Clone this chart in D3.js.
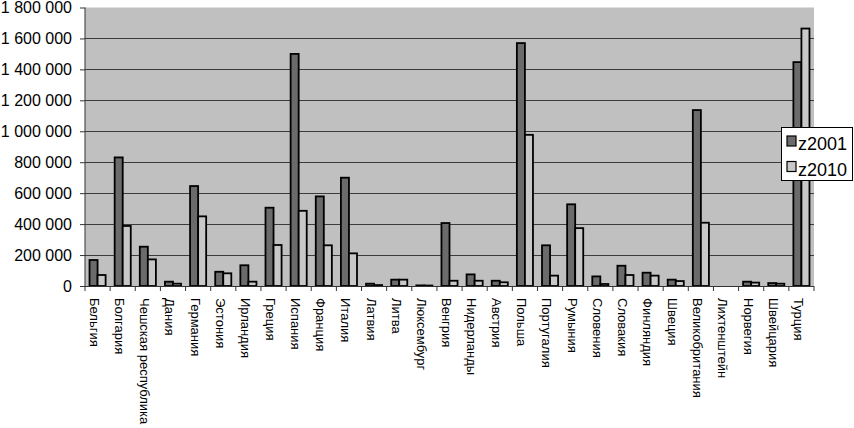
<!DOCTYPE html>
<html>
<head>
<meta charset="utf-8">
<script src="https://cdn.jsdelivr.net/npm/d3@7"></script>
<style>
  html, body { margin: 0; padding: 0; background: #fff; }
  svg { display: block; }
  text { font-family: "Liberation Sans", Arial, sans-serif; fill: #000; }
</style>
</head>
<body>
<svg id="chart" width="854" height="428"></svg>
<script>
const categories = ["Бельгия","Болгария","Чешская республика","Дания","Германия","Эстония","Ирландия","Греция","Испания","Франция","Италия","Латвия","Литва","Люксембург","Венгрия","Нидерланды","Австрия","Польша","Португалия","Румыния","Словения","Словакия","Финляндия","Швеция","Великобритания","Лихтенштейн","Норвегия","Швейцария","Турция"];
const seriesNames = ["z2001", "z2010"];
const z2001 = [168000, 831000, 254000, 28000, 646000, 92000, 134000, 506000, 1500000, 579000, 700000, 15000, 41000, 4000, 407000, 75000, 34000, 1570000, 263000, 528000, 62000, 131000, 86000, 41000, 1137000, 0, 28000, 19000, 1447000];
const z2010 = [71000, 388000, 172000, 15000, 450000, 82000, 28000, 265000, 486000, 263000, 211000, 6000, 41000, 3000, 34000, 34000, 24000, 977000, 67000, 374000, 13000, 71000, 67000, 32000, 409000, 0, 22000, 15000, 1664000];
const yTicks = [0, 200000, 400000, 600000, 800000, 1000000, 1200000, 1400000, 1600000, 1800000];
const seriesColors = ["#6b6b6b", "#c8c8c8"];

const svg = d3.select("#chart");
const L = 85, R = 814, T = 7.5, B = 286;

const x = d3.scaleBand().domain(categories).range([L, R]).padding(0);
const bw = x.bandwidth();
const x1 = d3.scaleBand().domain(seriesNames).range([bw * 0.18, bw * 0.82]).padding(0);
const y = d3.scaleLinear().domain([0, 1800000]).range([B, T]);

// plot area
svg.append("rect").attr("x", L).attr("y", T).attr("width", R - L).attr("height", B - T).attr("fill", "#c0c0c0");

// gridlines
svg.append("g").selectAll("line").data(yTicks.filter(d => d > 0 && d < 1800000)).join("line")
  .attr("x1", L).attr("x2", R).attr("y1", d => Math.round(y(d)) + 0.5).attr("y2", d => Math.round(y(d)) + 0.5)
  .attr("stroke", "#3c3c3c").attr("stroke-width", 1);

// y axis
const fmt = d => d3.format(",")(d).replace(/,/g, " ");
const yAxis = d3.axisLeft(y).tickValues(yTicks).tickSize(5).tickPadding(8).tickFormat(fmt);
const gy = svg.append("g").attr("transform", `translate(${L},0)`).call(yAxis);
gy.select(".domain").attr("stroke", "#333").attr("d", `M0,${T}V${B}`);
gy.selectAll(".tick line").attr("stroke", "#333");
gy.selectAll("text").attr("font-size", 16).attr("fill", "#000");

// bars
const data = categories.map((c, i) => ({ c, vals: [z2001[i], z2010[i]] }));
const groups = svg.append("g").selectAll("g").data(data).join("g")
  .attr("transform", d => `translate(${x(d.c)},0)`);
groups.selectAll("rect").data(d => d.vals.map((v, k) => ({ v, s: seriesNames[k], k }))).join("rect")
  .filter(d => d.v > 0)
  .attr("x", d => x1(d.s))
  .attr("width", x1.bandwidth())
  .attr("y", d => y(d.v))
  .attr("height", d => B - y(d.v))
  .attr("fill", d => seriesColors[d.k])
  .attr("stroke", "#000").attr("stroke-width", 1.8);

// x axis
svg.append("line").attr("x1", L).attr("x2", R).attr("y1", B + 0.5).attr("y2", B + 0.5).attr("stroke", "#333");
const boundaries = categories.map(c => x(c)).concat([R]);
svg.append("g").selectAll("line").data(boundaries).join("line")
  .attr("x1", d => d).attr("x2", d => d).attr("y1", B).attr("y2", B + 5).attr("stroke", "#333");

// x labels rotated
svg.append("g").selectAll("text").data(categories).join("text")
  .attr("transform", c => `translate(${x(c) + bw / 2 - 3},${298}) rotate(90)`)
  .attr("dy", "0.35em")
  .attr("font-size", 13)
  .attr("text-anchor", "start")
  .text(c => c);

// legend
const lg = svg.append("g");
lg.append("rect").attr("x", 781.5).attr("y", 127.5).attr("width", 71).attr("height", 53)
  .attr("fill", "#fff").attr("stroke", "#000").attr("stroke-width", 1);
seriesNames.forEach((s, k) => {
  const cy = 141 + k * 25.5;
  lg.append("rect").attr("x", 787).attr("y", cy - 5).attr("width", 9).attr("height", 10)
    .attr("fill", seriesColors[k]).attr("stroke", "#000").attr("stroke-width", 1.2);
  lg.append("text").attr("x", 798).attr("y", cy + 3).attr("dy", "0.35em")
    .attr("font-size", 18).text(s);
});
</script>
</body>
</html>
